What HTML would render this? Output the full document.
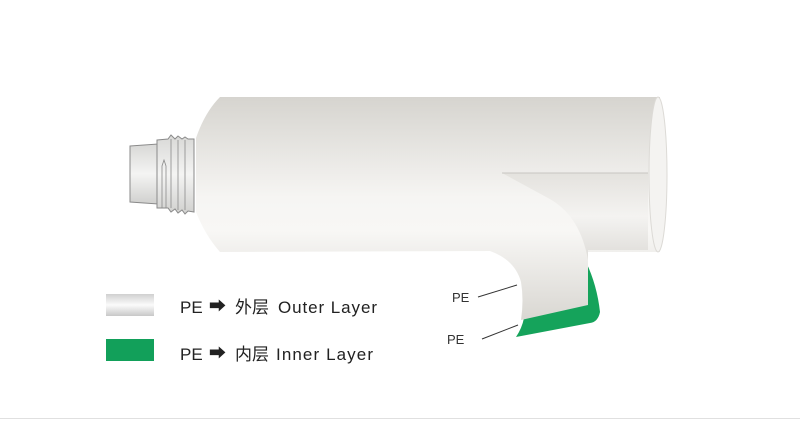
<!DOCTYPE html>
<html><head><meta charset="utf-8"><style>
body{margin:0;background:#fff;width:800px;height:422px;overflow:hidden;font-family:"Liberation Sans","Noto Sans CJK SC",sans-serif}
</style></head><body>
<svg width="800" height="422" viewBox="0 0 800 422" xmlns="http://www.w3.org/2000/svg">
<defs>
<linearGradient id="tg" x1="0" y1="0" x2="0" y2="1">
<stop offset="0" stop-color="#d6d4cf"/><stop offset="0.45" stop-color="#f6f5f3"/><stop offset="0.6" stop-color="#f8f7f5"/><stop offset="1" stop-color="#d9d7d2"/></linearGradient>
<linearGradient id="cg" x1="0" y1="0" x2="0" y2="1">
<stop offset="0" stop-color="#d8d8d6"/><stop offset="0.5" stop-color="#f4f4f3"/><stop offset="1" stop-color="#d0d0ce"/></linearGradient>
<linearGradient id="lg" x1="0" y1="0" x2="0" y2="1">
<stop offset="0" stop-color="#d0d0d0"/><stop offset="0.5" stop-color="#fbfbfb"/><stop offset="1" stop-color="#c8c8c8"/></linearGradient>
<linearGradient id="ig" x1="0" y1="0" x2="0" y2="1">
<stop offset="0" stop-color="#e4e2de"/><stop offset="0.5" stop-color="#f4f3f1"/><stop offset="1" stop-color="#dedcd8"/></linearGradient>
</defs>
<path d="M130 146 L158 144 L158 204 L130 202 Z" fill="url(#cg)" stroke="#8a8a8a" stroke-width="1"/>
<path d="M157 140 L168 139 L171 135 L175 139 L178 136 L182 139 L185 137 L188 139 L194 139 L194 212 L188 211 L185 214 L182 210 L178 213 L175 209 L171 212 L168 208 L157 208 Z" fill="url(#cg)" stroke="#8a8a8a" stroke-width="1"/>
<path d="M162 208 L162 166 L164 160 L166 166 L166 208 M171 139 L171 208 M178 140 L178 210 M185 140 L185 210" fill="none" stroke="#8a8a8a" stroke-width="0.8"/>
<path d="M586 262 Q597 285 600 312 Q598 322 590 323 L516 337 Q522 328 524 318 L586 305 Z" fill="#15a35b"/>
<path d="M220 97 L660 97 L660 252 L588 252 L588 305 L521 320 Q524 300 521 282 Q515 260 490 251 L220 252 Q205 235 196 212 L196 138 Q205 112 220 97 Z" fill="url(#tg)"/>
<path d="M502 173 L648 173 L648 250 L588 250 L588 260 Q580 215 548 198 Z" fill="url(#ig)"/>
<path d="M502 173 L648 173" stroke="#c8c6c2" stroke-width="1"/>
<ellipse cx="658" cy="174.5" rx="9" ry="77.5" fill="#f4f3f1" stroke="#dcdad6" stroke-width="1"/>
<text x="452" y="302" font-size="13" fill="#333">PE</text>
<text x="447" y="344" font-size="13" fill="#333">PE</text>
<line x1="478" y1="297" x2="517" y2="285" stroke="#333" stroke-width="1"/>
<line x1="482" y1="339" x2="518" y2="325" stroke="#333" stroke-width="1"/>
<rect x="106" y="294" width="48" height="22" fill="url(#lg)"/>
<rect x="106" y="339" width="48" height="22" fill="#12a05a"/>
<g font-size="17" fill="#222">
<text x="180" y="313">PE</text><text x="209" y="312">➡</text><text x="235" y="313">外层</text><text x="278" y="313" textLength="99">Outer Layer</text>
<text x="180" y="360">PE</text><text x="209" y="359">➡</text><text x="235" y="360">内层</text><text x="276" y="360" textLength="97">Inner Layer</text>
</g>
<line x1="0" y1="418.5" x2="800" y2="418.5" stroke="#e0e0e0" stroke-width="1"/>
</svg>
</body></html>
